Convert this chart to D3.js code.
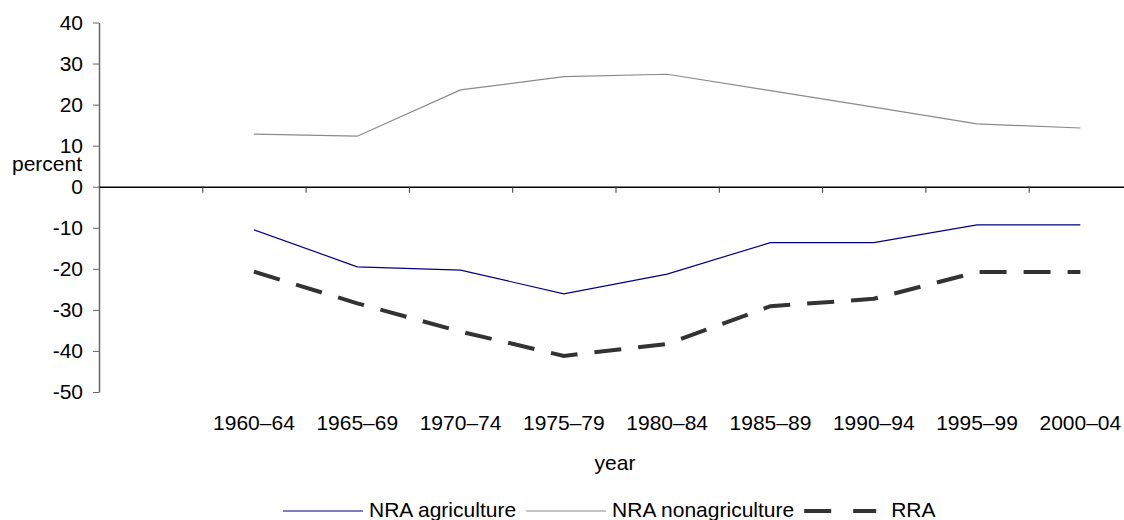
<!DOCTYPE html>
<html>
<head>
<meta charset="utf-8">
<script src="https://cdn.jsdelivr.net/npm/d3@7"></script>
<style>
  body { margin: 0; background: #fff; }
  text { font-family: "Liberation Sans", Arial, sans-serif; font-size: 21px; fill: #000; }
</style>
</head>
<body>
<div class="d3Area"></div>
<script>
// data
let years = ["1960–64", "1965–69", "1970–74", "1975–79", "1980–84", "1985–89", "1990–94", "1995–99", "2000–04"];
let nraAgri = [-10.5, -19.5, -20.3, -26.1, -21.3, -13.6, -13.6, -9.3, -9.3];
let nraNonAgri = [12.8, 12.3, 23.6, 26.8, 27.4, 23.4, 19.4, 15.3, 14.3];
let rra = [-20.7, -28.4, -35.3, -41.2, -38.3, -29.1, -27.3, -20.8, -20.8];
let yTicks = [-50, -40, -30, -20, -10, 0, 10, 20, 30, 40];
let legendNames = ["NRA agriculture", "NRA nonagriculture", "RRA"];

let outerWidth = 1124,
  outerHeight = 520;

let svg = d3
  .select(".d3Area")
  .append("svg")
  .attr("width", outerWidth)
  .attr("height", outerHeight);

// first band is left empty, like the original excel chart
let x = d3
  .scaleBand()
  .domain([""].concat(years))
  .range([99, 1132])
  .padding(0);
let cx = (d) => x(d) + x.bandwidth() / 2;

let y = d3.scaleLinear().domain([-50, 40]).range([392, 22.5]);

// y axis (plain hyphen for negatives)
let yAxis = svg
  .append("g")
  .attr("transform", "translate(99,0)")
  .call(
    d3.axisLeft(y)
      .tickValues(yTicks)
      .tickFormat((d) => String(d))
      .tickSize(6)
      .tickSizeOuter(0)
      .tickPadding(10)
  );
yAxis.select(".domain").attr("stroke", "#666").attr("stroke-width", 1.5);
yAxis.selectAll(".tick line").attr("stroke", "#666");
yAxis.selectAll("text").attr("font-size", 21).attr("font-family", "Liberation Sans, Arial, sans-serif").attr("fill", "#000");

// x axis along zero, ticks between categories
let xTick = d3.scaleLinear().domain([0, 10]).range([99, 1132]);
let xAxis = svg
  .append("g")
  .attr("transform", "translate(0," + y(0) + ")")
  .call(
    d3.axisBottom(xTick)
      .tickValues([1, 2, 3, 4, 5, 6, 7, 8, 9])
      .tickFormat("")
      .tickSize(6)
      .tickSizeOuter(0)
  );
xAxis.select(".domain").attr("stroke", "#000").attr("stroke-width", 1.5);
xAxis.selectAll(".tick line").attr("stroke", "#333");

// category labels at the bottom
let xLabels = svg
  .append("g")
  .attr("transform", "translate(0,392)")
  .call(d3.axisBottom(x).tickValues(years).tickSize(0).tickPadding(23));
xLabels.select(".domain").remove();
xLabels.selectAll("text").attr("font-size", 21).attr("font-family", "Liberation Sans, Arial, sans-serif").attr("fill", "#000");

// axis titles
svg.append("text").attr("x", 82).attr("y", 171).attr("text-anchor", "end").text("percent");
svg.append("text").attr("x", 615).attr("y", 470).attr("text-anchor", "middle").text("year");

let line = d3
  .line()
  .x((d, i) => cx(years[i]))
  .y((d) => y(d));

let series = [
  { name: legendNames[0], data: nraAgri, color: "#000080", width: 1.2, dash: null },
  { name: legendNames[1], data: nraNonAgri, color: "#8a8a8a", width: 1.2, dash: null },
  { name: legendNames[2], data: rra, color: "#333", width: 4, dash: "27,17" },
];

series.forEach((s) => {
  svg
    .append("path")
    .attr("d", line(s.data))
    .attr("fill", "none")
    .attr("stroke", s.color)
    .attr("stroke-width", s.width)
    .attr("stroke-dasharray", s.dash);
});

// legend
let legX = 283;
let legY = 511;
series.forEach((s) => {
  let len = s.dash ? 72 : 80;
  svg
    .append("line")
    .attr("x1", legX)
    .attr("x2", legX + len)
    .attr("y1", legY)
    .attr("y2", legY)
    .attr("stroke", s.color)
    .attr("stroke-width", s.width)
    .attr("stroke-dasharray", s.dash ? "27,22" : null);
  let t = svg
    .append("text")
    .attr("x", legX + len + (s.dash ? 15 : 6))
    .attr("y", legY + 6)
    .text(s.name);
  legX = legX + len + (s.dash ? 15 : 6) + t.node().getComputedTextLength() + 10;
});
</script>
</body>
</html>
